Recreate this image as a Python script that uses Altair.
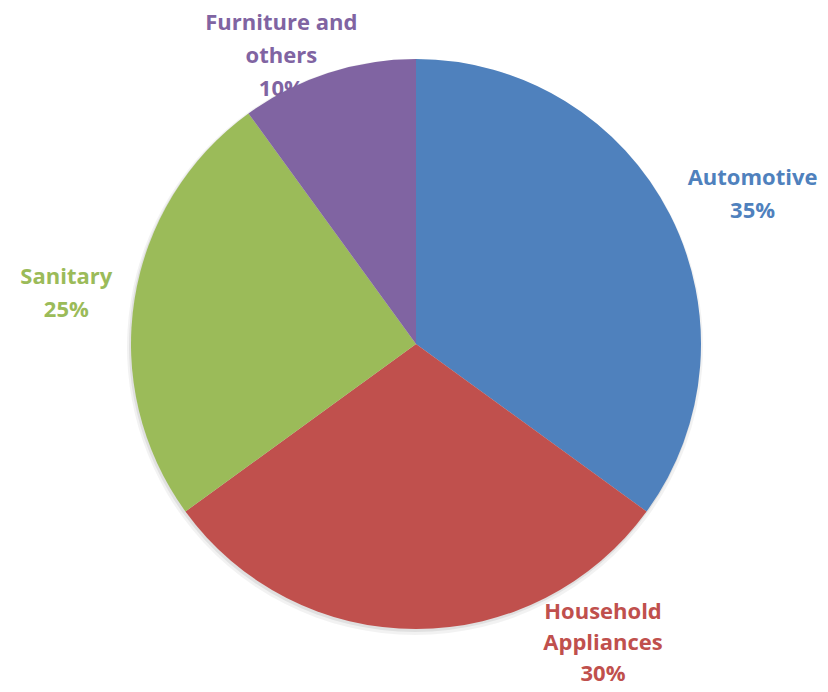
import altair as alt
import pandas as pd

categories = ["Automotive", "Household Appliances", "Sanitary", "Furniture and others"]
shares = [35, 30, 25, 10]
label_lines = [["Automotive", "35%"],
               ["Household", "Appliances", "30%"],
               ["Sanitary", "25%"],
               ["Furniture and", "others", "10%"]]
colors = ["#4F81BD", "#C0504D", "#9BBB59", "#8064A2"]

df = pd.DataFrame({
    "category": categories,
    "share": shares,
    "order": list(range(len(categories))),
    "label": label_lines,
})

CX, CY, R = 408, 336, 285
FONT = "Open Sans"
TAU = 6.283185307

theta = alt.Theta("share:Q", stack=True, scale=alt.Scale(domain=[0, 100], range=[0, TAU]))
color = alt.Color("category:N", scale=alt.Scale(domain=categories, range=colors), legend=None)
order = alt.Order("order:Q")

base = alt.Chart(df)

shadow = base.mark_arc(outerRadius=R + 3, color="#000000", opacity=0.05).encode(
    theta=theta, order=order, x=alt.value(CX - 1), y=alt.value(CY + 3))
shadow2 = base.mark_arc(outerRadius=R + 1, color="#000000", opacity=0.07).encode(
    theta=theta, order=order, x=alt.value(CX - 1), y=alt.value(CY + 2))

arcs = base.mark_arc(outerRadius=R).encode(
    theta=theta, color=color, order=order, x=alt.value(CX), y=alt.value(CY))

label_style = {
    "Automotive": dict(radius=380, dx=-2, dy=7, lh=33),
    "Household Appliances": dict(radius=310, dx=187, dy=-42, lh=31),
    "Sanitary": dict(radius=350, dx=-4, dy=-12, lh=33),
    "Furniture and others": dict(radius=300, dx=-42, dy=-36, lh=33),
}

mid_base = base.transform_window(
    cum="sum(share)", sort=[alt.SortField("order")]
).transform_calculate(mid="datum.cum - datum.share / 2")

mid_theta = alt.Theta("mid:Q", stack=None, scale=alt.Scale(domain=[0, 100], range=[0, TAU]))

texts = []
for cat in categories:
    st = label_style[cat]
    t = mid_base.mark_text(
        radius=st["radius"], dx=st["dx"], dy=st["dy"], font=FONT, fontSize=22,
        fontWeight="bold", align="center", baseline="middle", lineHeight=st["lh"],
    ).encode(
        theta=mid_theta, text="label:N", color=color,
        x=alt.value(CX), y=alt.value(CY),
    ).transform_filter(alt.datum.category == cat)
    texts.append(t)

chart = alt.layer(*texts, shadow, shadow2, arcs).properties(
    width=812, height=676, padding=0, autosize="none"
).configure_view(stroke=None)

chart.save("out.html", embed_options={"renderer": "svg", "actions": False})
